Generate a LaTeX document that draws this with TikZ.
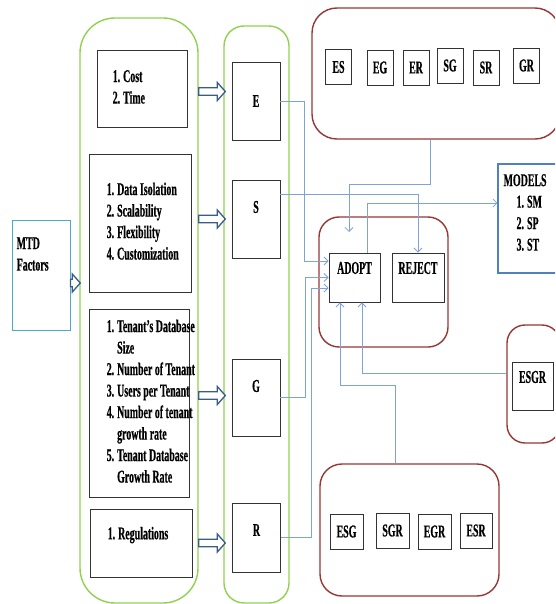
\documentclass[tikz,border=0pt]{standalone}
\usepackage{fontspec}
\setmainfont{Liberation Serif}[FakeStretch=0.55, BoldFeatures={FakeBold=0.5}]
\usepackage{tikz}
\usetikzlibrary{arrows.meta, positioning, calc}
\definecolor{grpgreen}{RGB}{146,208,80}
\definecolor{redframe}{RGB}{149,55,53}
\definecolor{mtdblue}{RGB}{75,172,198}
\definecolor{modblue}{RGB}{79,129,189}
\definecolor{linkblue}{RGB}{126,163,214}
\definecolor{arrowblue}{RGB}{56,93,138}
\newcommand{\itemlist}[1]{\begin{tabular}{@{}l@{\hspace{3pt}}l@{}}#1\end{tabular}}
% hollow block arrow from #1 to #2
\newcommand{\blockarrow}[2]{%
  \draw[blk] ($(#1)+(0,-3.8)$) -- ($(#2)+(-8,-3.8)$) -- ($(#2)+(-8,-9)$) -- (#2)
    -- ($(#2)+(-8,9)$) -- ($(#2)+(-8,3.8)$) -- ($(#1)+(0,3.8)$) -- cycle;}

\begin{document}
\begin{tikzpicture}[
  x=1pt, y=-1pt,
  every node/.style={font=\fontsize{18}{21.5}\selectfont\bfseries},
  grpbox/.style={draw=grpgreen, line width=1.4pt, rounded corners=#1, inner sep=0pt},
  redbox/.style={draw=redframe, line width=1.4pt, rounded corners=#1, inner sep=0pt},
  facbox/.style={draw=black!80, line width=0.9pt, inner sep=0pt},
  combo/.style={facbox, minimum width=26pt, minimum height=35pt},
  lst/.style={anchor=west, inner sep=0pt, align=left},
  conn/.style={draw=linkblue, line width=0.8pt, -{Straight Barb[length=4pt, width=8pt]}},
  blk/.style={draw=arrowblue, fill=white, line width=1.3pt, line join=miter}
]
  \useasboundingbox (0,0) rectangle (555,604);
  \clip (0,0) rectangle (555,604);

  % MTD factors
  \node[draw=mtdblue, line width=1pt, minimum width=58pt, minimum height=110pt, inner sep=0pt] (mtd) at (41,275) {};
  \node[lst] (mtdtxt) at ($(mtd.west)+(5,-21)$) {MTD\\Factors};

  % Factor groups
  \node[grpbox=35pt, minimum width=118pt, minimum height=585pt] (factors) at (139,310.5) {};
  \node[facbox, minimum width=90pt, minimum height=77pt] (cost) at (142,88.5) {};
  \node[lst, right=16pt of cost.west] (costtxt) {\itemlist{1. & Cost\\ 2. & Time}};
  \node[facbox, minimum width=102pt, minimum height=138pt] (data) at (140,223) {};
  \node[lst, right=18pt of data.west] (datatxt) {\itemlist{1. & Data Isolation\\ 2. & Scalability\\ 3. & Flexibility\\ 4. & Customization}};
  \node[facbox, minimum width=100pt, minimum height=188pt] (tenant) at (139,403) {};
  \node[lst, right=18pt of tenant.west] (tenanttxt) {\itemlist{1. & Tenant’s Database\\ & Size\\ 2. & Number of Tenant\\ 3. & Users per Tenant\\ 4. & Number of tenant\\ & growth rate\\ 5. & Tenant Database\\ & Growth Rate}};
  \node[facbox, minimum width=102pt, minimum height=68pt] (reg) at (141,543) {};
  \node[lst] (regtxt) at ($(reg.west)+(18,-8)$) {\itemlist{1. & Regulations}};

  % E S G R
  \node[grpbox=20pt, minimum width=65pt, minimum height=577pt] (esgr) at (256.5,314.5) {};
  \node[facbox, minimum width=48pt, minimum height=78pt] (E) at (256,101) {E};
  \node[facbox, minimum width=48pt, minimum height=78pt] (S) at (256,219) {};
  \node (Slab) at ($(S)+(0,-12)$) {S};
  \node[facbox, minimum width=48pt, minimum height=77pt] (G) at (256,397.5) {};
  \node (Glab) at ($(G)+(0,-11.5)$) {G};
  \node[facbox, minimum width=48pt, minimum height=69pt] (R) at (256.5,537.5) {};
  \node (Rlab) at ($(R)+(0,-7.5)$) {R};

  % Pairs
  \node[redbox=25pt, minimum width=248pt, minimum height=131pt] (pairs) at (436,73.5) {};
  \node[combo] (ES) at (338.5,67) {ES};
  \node[combo] (EG) at (380,67.5) {EG};
  \node[combo] (ER) at (416,67.5) {ER};
  \node[combo] (SG) at (450,65.5) {SG};
  \node[combo] (SR) at (486,67.5) {SR};
  \node[combo] (GR) at (526.5,65.5) {GR};

  % Decision
  \node[redbox=20pt, minimum width=129pt, minimum height=130pt] (decide) at (383.5,282) {};
  \node[facbox, minimum width=51pt, minimum height=49pt] (ADOPT) at (354.5,277.5) {};
  \node (adoptlab) at ($(ADOPT)+(0,-9.5)$) {ADOPT};
  \node[facbox, minimum width=52pt, minimum height=49pt] (REJECT) at (418,277.5) {};
  \node (rejectlab) at ($(REJECT)+(0,-9.5)$) {REJECT};

  % Models
  \node[draw=modblue, line width=1.2pt, minimum width=62pt, minimum height=109pt, inner sep=0pt] (models) at (529,218.5) {};
  \node[lst] (modelstxt) at ($(models.west)+(6,-6)$) {MODELS\\\hspace{13pt}1.\hspace{3pt}SM\\\hspace{13pt}2.\hspace{3pt}SP\\\hspace{13pt}3.\hspace{3pt}ST};

  % Four factors
  \node[redbox=18pt, minimum width=53pt, minimum height=118pt] (quad) at (533.5,384) {};
  \node[facbox, minimum width=41pt, minimum height=48pt] (ESGR) at (532.5,386) {};
  \node (esgrlab) at ($(ESGR)+(0,-9)$) {ESGR};

  % Triples
  \node[redbox=22pt, minimum width=179pt, minimum height=132pt] (triples) at (409.5,530) {};
  \node[combo, minimum width=33pt] (ESG) at (346.5,531.5) {ESG};
  \node[combo, minimum width=33pt] (SGR) at (392.5,530.5) {SGR};
  \node[combo, minimum width=33pt] (EGR) at (434.5,531.5) {EGR};
  \node[combo, minimum width=32pt] (ESR) at (476,530.5) {ESR};

  % Block arrows
  \coordinate (m0) at ([yshift=-8pt]mtd.east);
  \coordinate (m1) at ($(m0 -| factors.west)+(1,0)$);
  \coordinate (c0) at ([yshift=-3pt]factors.east |- cost.east);
  \coordinate (c1) at ($(c0 -| esgr.west)+(2,0)$);
  \coordinate (s0) at (factors.east |- S.east);
  \coordinate (s1) at ($(s0 -| esgr.west)+(2,0)$);
  \coordinate (g0) at ([yshift=2pt]factors.east |- G.east);
  \coordinate (g1) at ($(g0 -| esgr.west)+(2,0)$);
  \coordinate (r0) at (factors.east |- reg.east);
  \coordinate (r1) at ($(r0 -| esgr.west)+(2,0)$);
  \blockarrow{m0}{m1}
  \blockarrow{c0}{c1}
  \blockarrow{s0}{s1}
  \blockarrow{g0}{g1}
  \blockarrow{r0}{r1}

  % Connectors
  \coordinate (pairin) at (349,232);
  \draw[conn] (E.east) -- ++(24,0) |- ([yshift=16.5pt]ADOPT.west);
  \draw[conn] ([yshift=25pt]S.east) -| (REJECT.north);
  \draw[conn] (G.east) -- ++(25,0) |- (ADOPT.west);
  \draw[conn] (R.east) -- ++(30,0) |- ([yshift=-10.5pt]ADOPT.west);
  \draw[conn] ([xshift=-6pt]pairs.south) -- ++(0,45) -| (pairin);
  \draw[conn] ([xshift=12.5pt]ADOPT.north) |- ([yshift=15.5pt]models.west);
  \draw[conn] ([xshift=-14.5pt]triples.north) -- ++(0,-78) -| ([xshift=-14.5pt]ADOPT.south);
  \draw[conn] ([yshift=11pt]quad.west) -| ([xshift=7.5pt]ADOPT.south);
\end{tikzpicture}
\end{document}
